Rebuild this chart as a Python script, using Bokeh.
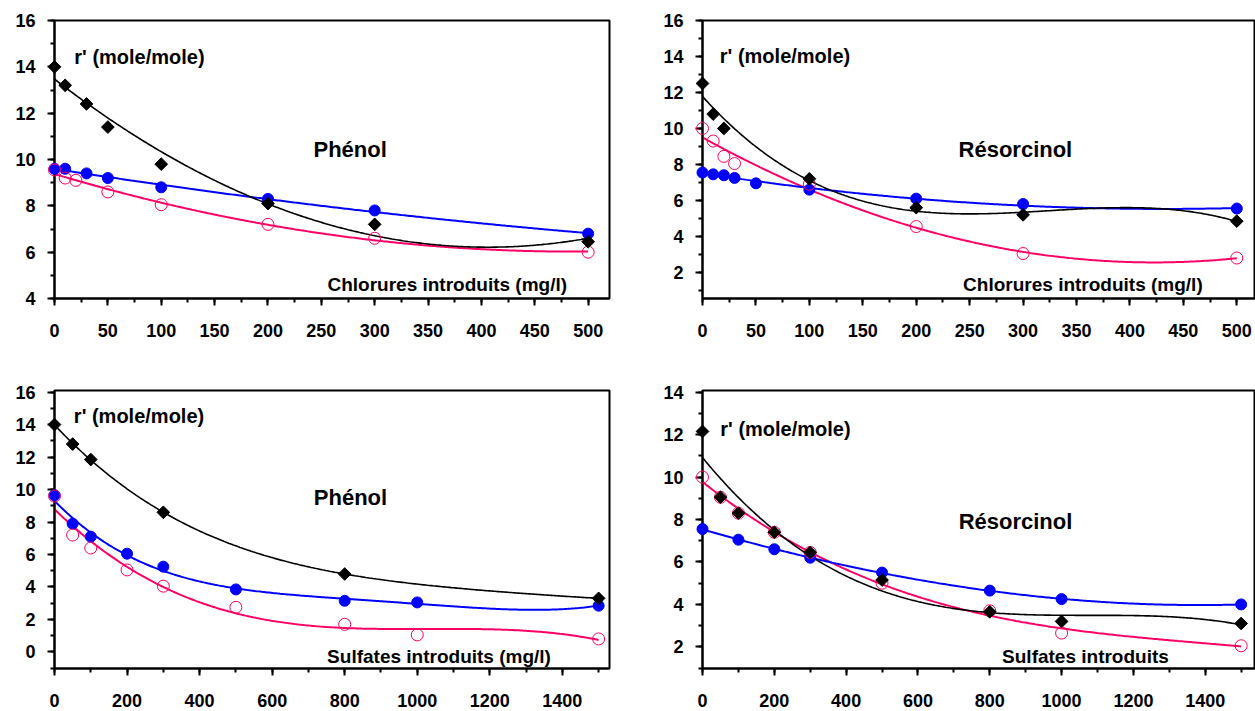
import numpy as np
from bokeh.plotting import figure
from bokeh.layouts import column, row
from bokeh.models import Label, SingleIntervalTicker
from bokeh.embed import file_html
from bokeh.resources import INLINE

FONT = "Liberation Sans"
BLACK = "#000000"
BLUE = "#0000FF"
PINK = "#FF0066"

# ---------------- data ----------------
# Panel A : Phénol / chlorures
a_black_x = [0, 10, 30, 50, 100, 200, 300, 500]
a_black_y = [14.0, 13.2, 12.4, 11.4, 9.8, 8.1, 7.2, 6.45]
a_blue_x = [0, 10, 30, 50, 100, 200, 300, 500]
a_blue_y = [9.6, 9.6, 9.4, 9.2, 8.8, 8.3, 7.8, 6.8]
a_pink_x = [0, 10, 20, 50, 100, 200, 300, 500]
a_pink_y = [9.55, 9.2, 9.1, 8.6, 8.05, 7.2, 6.6, 6.0]

# Panel B : Résorcinol / chlorures
b_black_x = [0, 10, 20, 100, 200, 300, 500]
b_black_y = [12.5, 10.8, 10.0, 7.2, 5.6, 5.2, 4.85]
b_blue_x = [0, 10, 20, 30, 50, 100, 200, 300, 500]
b_blue_y = [7.55, 7.45, 7.4, 7.25, 6.95, 6.6, 6.1, 5.8, 5.55]
b_pink_x = [0, 10, 20, 30, 100, 200, 300, 500]
b_pink_y = [10.0, 9.3, 8.45, 8.05, 6.9, 4.55, 3.05, 2.8]

# Panel C : Phénol / sulfates
c_black_x = [0, 50, 100, 300, 800, 1500]
c_black_y = [14.0, 12.8, 11.85, 8.6, 4.8, 3.3]
c_blue_x = [0, 50, 100, 200, 300, 500, 800, 1000, 1500]
c_blue_y = [9.65, 7.9, 7.1, 6.05, 5.25, 3.85, 3.15, 3.05, 2.85]
c_pink_x = [0, 50, 100, 200, 300, 500, 800, 1000, 1500]
c_pink_y = [9.6, 7.2, 6.4, 5.05, 4.05, 2.75, 1.7, 1.05, 0.8]

# Panel D : Résorcinol / sulfates
d_black_x = [0, 50, 100, 200, 300, 500, 800, 1000, 1500]
d_black_y = [12.15, 9.05, 8.3, 7.4, 6.45, 5.15, 3.65, 3.2, 3.1]
d_blue_x = [0, 100, 200, 300, 500, 800, 1000, 1500]
d_blue_y = [7.55, 7.05, 6.6, 6.2, 5.5, 4.65, 4.25, 4.0]
d_pink_x = [0, 50, 100, 200, 300, 500, 800, 1000, 1500]
d_pink_y = [10.0, 9.05, 8.3, 7.4, 6.45, 5.0, 3.7, 2.65, 2.05]

# polynomial trend-line orders (least squares on the data above)
a_deg = (2, 2, 2)
b_deg = (3, 2, 2)
c_deg = (4, 4, 3)
d_deg = (3, 3, 3)

y_label = "r' (mole/mole)"
x_label_cl = "Chlorures introduits (mg/l)"
x_label_so = "Sulfates introduits (mg/l)"
x_label_so2 = "Sulfates introduits"


def make_panel(width, height, borders, x_end, y_rng, x_step):
    left, right, top, bottom = borders
    p = figure(width=width, height=height, x_range=(0, x_end), y_range=y_rng,
               output_backend="svg", toolbar_location=None,
               min_border_left=left, min_border_right=right,
               min_border_top=top, min_border_bottom=bottom)
    p.grid.visible = False
    p.background_fill_color = "white"
    p.border_fill_color = "white"
    p.outline_line_color = "black"
    p.outline_line_width = 2
    p.xaxis.ticker = SingleIntervalTicker(interval=x_step, num_minor_ticks=2)
    p.yaxis.ticker = SingleIntervalTicker(interval=2, num_minor_ticks=2)
    for ax in (p.xaxis[0], p.yaxis[0]):
        ax.axis_line_width = 2
        ax.axis_line_color = "black"
        ax.major_tick_line_width = 2
        ax.minor_tick_line_width = 2
        ax.major_tick_out = 7
        ax.major_tick_in = 0
        ax.minor_tick_out = 4
        ax.minor_tick_in = 0
        ax.major_label_text_font = FONT
        ax.major_label_text_font_style = "bold"
        ax.major_label_text_font_size = "18px"
        ax.major_label_text_color = "black"
    p.yaxis[0].major_label_standoff = 12
    p.xaxis[0].major_label_standoff = 18
    return p


def add_series(p, bx, by, ux, uy, kx, ky, degs):
    for xs, ys, deg, col, lw in ((kx, ky, degs[2], PINK, 2),
                                 (ux, uy, degs[1], BLUE, 2),
                                 (bx, by, degs[0], BLACK, 1.6)):
        c = np.polyfit(xs, ys, deg)
        xx = np.linspace(min(xs), max(xs), 300)
        p.line(xx, np.polyval(c, xx), line_color=col, line_width=lw)
    r1 = p.scatter(ux, uy, marker="circle", size=11, fill_color=BLUE,
                   line_color=BLUE)
    r2 = p.scatter(kx, ky, marker="circle", size=12, fill_color=None,
                   line_color=PINK, line_width=1)
    r3 = p.scatter(bx, by, marker="square", angle=np.pi / 4, size=9,
                   fill_color=BLACK, line_color=BLACK)
    for r in (r1, r2, r3):
        r.level = "overlay"


def add_text(p, x, y, text, size):
    p.add_layout(Label(x=x, y=y, text=text, text_font=FONT,
                       text_font_style="bold", text_font_size=size,
                       text_align="center", text_baseline="middle",
                       text_color="black"))


# ---------------- panels ----------------
p1 = make_panel(640, 340, (54, 31, 20, 42), 520, (4, 16), 50)
add_series(p1, a_black_x, a_black_y, a_blue_x, a_blue_y, a_pink_x, a_pink_y, a_deg)
add_text(p1, 79.6, 14.42, y_label, "20px")
add_text(p1, 277, 10.43, "Phénol", "22px")
add_text(p1, 368, 4.59, x_label_cl, "19px")

p2 = make_panel(615, 340, (62, 0, 20, 42), 517.5, (0.55, 16), 50)
add_series(p2, b_black_x, b_black_y, b_blue_x, b_blue_y, b_pink_x, b_pink_y, b_deg)
add_text(p2, 77.2, 14.05, y_label, "20px")
add_text(p2, 292.8, 8.83, "Résorcinol", "22px")
add_text(p2, 356, 1.31, x_label_cl, "19px")

p3 = make_panel(640, 371, (54, 31, 50, 43), 1530, (-1.02, 16.1), 200)
add_series(p3, c_black_x, c_black_y, c_blue_x, c_blue_y, c_pink_x, c_pink_y, c_deg)
add_text(p3, 233, 14.52, y_label, "20px")
add_text(p3, 816, 9.49, "Phénol", "22px")
add_text(p3, 1060, -0.27, x_label_so, "19px")

p4 = make_panel(615, 371, (62, 0, 50, 43), 1540, (0.98, 14.08), 200)
add_series(p4, d_black_x, d_black_y, d_blue_x, d_blue_y, d_pink_x, d_pink_y, d_deg)
add_text(p4, 231, 12.27, y_label, "20px")
add_text(p4, 871.6, 7.91, "Résorcinol", "22px")
add_text(p4, 1066.5, 1.55, x_label_so2, "19px")

layout = column(row(p1, p2), row(p3, p4))
open("out.html", "w").write(file_html(layout, INLINE))
